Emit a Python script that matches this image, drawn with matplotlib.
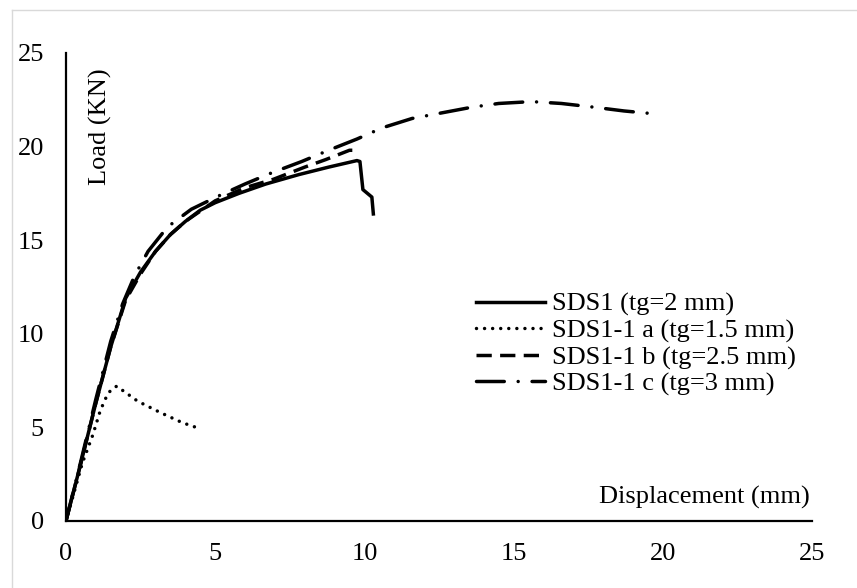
import matplotlib.pyplot as plt
from matplotlib.lines import Line2D

plt.rcParams['font.family'] = ['Liberation Serif', 'DejaVu Serif']
plt.rcParams['lines.scale_dashes'] = False

# SDS1 (tg=2 mm) - solid
sds1_x = [0, 0.5, 1.0, 1.5, 2.0, 2.5, 3.0, 3.5, 4.0, 4.5, 5.0, 5.8, 6.7, 7.8, 8.8, 9.75, 9.85, 9.95, 10.25, 10.3]
sds1_y = [0, 3.1, 6.3, 9.3, 11.9, 13.3, 14.4, 15.3, 16.0, 16.6, 17.0, 17.5, 18.0, 18.5, 18.9, 19.25, 19.2, 17.7, 17.3, 16.4]

# SDS1-1 a (tg=1.5 mm) - dotted
a_x = [0, 0.55, 0.9, 1.15, 1.4, 1.55, 1.7, 2.4, 3.15, 3.9, 4.45]
a_y = [0, 3.1, 4.6, 5.9, 6.8, 7.05, 7.2, 6.4, 5.8, 5.25, 4.95]

# SDS1-1 b (tg=2.5 mm) - dashed
b_x = [0, 0.5, 1, 1.5, 2, 2.5, 3, 3.5, 4, 5, 6, 6.95, 8, 8.7, 9.5, 9.65, 9.7]
b_y = [0, 3.1, 6.3, 9.3, 11.8, 13.2, 14.4, 15.3, 16.0, 17.1, 17.8, 18.25, 18.9, 19.3, 19.8, 19.8, 19.5]

# SDS1-1 c (tg=3 mm) - long dash dot
c_x = [0, 0.5, 1, 1.5, 1.9, 2.3, 2.75, 3.4, 4.2, 5.1, 6.0, 6.9, 7.9, 8.8, 9.75, 10.6, 11.6,
       12.6, 13.6, 14.5, 15.6, 16.6, 17.7, 18.7, 19.7]
c_y = [0, 3.2, 6.5, 9.6, 11.6, 13.1, 14.4, 15.7, 16.65, 17.35, 18.0, 18.6, 19.2, 19.8, 20.4, 21.0, 21.5,
       21.8, 22.1, 22.3, 22.4, 22.3, 22.1, 21.9, 21.75]

labels = ['SDS1 (tg=2 mm)', 'SDS1-1 a (tg=1.5 mm)', 'SDS1-1 b (tg=2.5 mm)', 'SDS1-1 c (tg=3 mm)']
ticks = [0, 5, 10, 15, 20, 25]

fs = 19
lw = 2.5

fig = plt.figure(figsize=(8.57, 5.88), dpi=100)
ax = fig.add_axes([0.077, 0.114, 0.8705, 0.796])

ax.plot(sds1_x, sds1_y, color='black', lw=lw, label=labels[0])
ax.plot(a_x, a_y, color='black', lw=lw, dashes=(0.01, 5.8), dash_capstyle='round', label=labels[1])
ax.plot(b_x, b_y, color='black', lw=lw, dashes=(11, 6), label=labels[2])
ax.plot(c_x, c_y, color='black', lw=lw, dashes=(20, 10, 0.01, 10), dash_capstyle='round', label=labels[3])

ax.set_xlim(0, 25)
ax.set_ylim(0, 25)
ax.set_xticks(ticks)
ax.set_yticks(ticks)
ax.tick_params(length=0, labelsize=fs, pad=16)
for s in ['top', 'right']:
    ax.spines[s].set_visible(False)
for s in ['left', 'bottom']:
    ax.spines[s].set_linewidth(1.6)

ax.text(0.046, 0.968, 'Load (KN)', transform=ax.transAxes, rotation=90,
        ha='center', va='top', fontsize=fs)
ax.text(0.997, 0.051, 'Displacement (mm)', transform=ax.transAxes,
        ha='right', va='center', fontsize=fs)

ax.legend(loc='upper left', bbox_to_anchor=(0.55, 0.488), frameon=False, fontsize=fs,
          handlelength=2.6, handletextpad=0.25, labelspacing=0.1, borderpad=0, borderaxespad=0)

# light grey frame around the chart area
fig.add_artist(Line2D([12 / 857, 12 / 857], [0, 1 - 10 / 588], color='#d9d9d9', lw=1))
fig.add_artist(Line2D([12 / 857, 1], [1 - 10 / 588, 1 - 10 / 588], color='#d9d9d9', lw=1))

fig.savefig('out.png', dpi=100)
